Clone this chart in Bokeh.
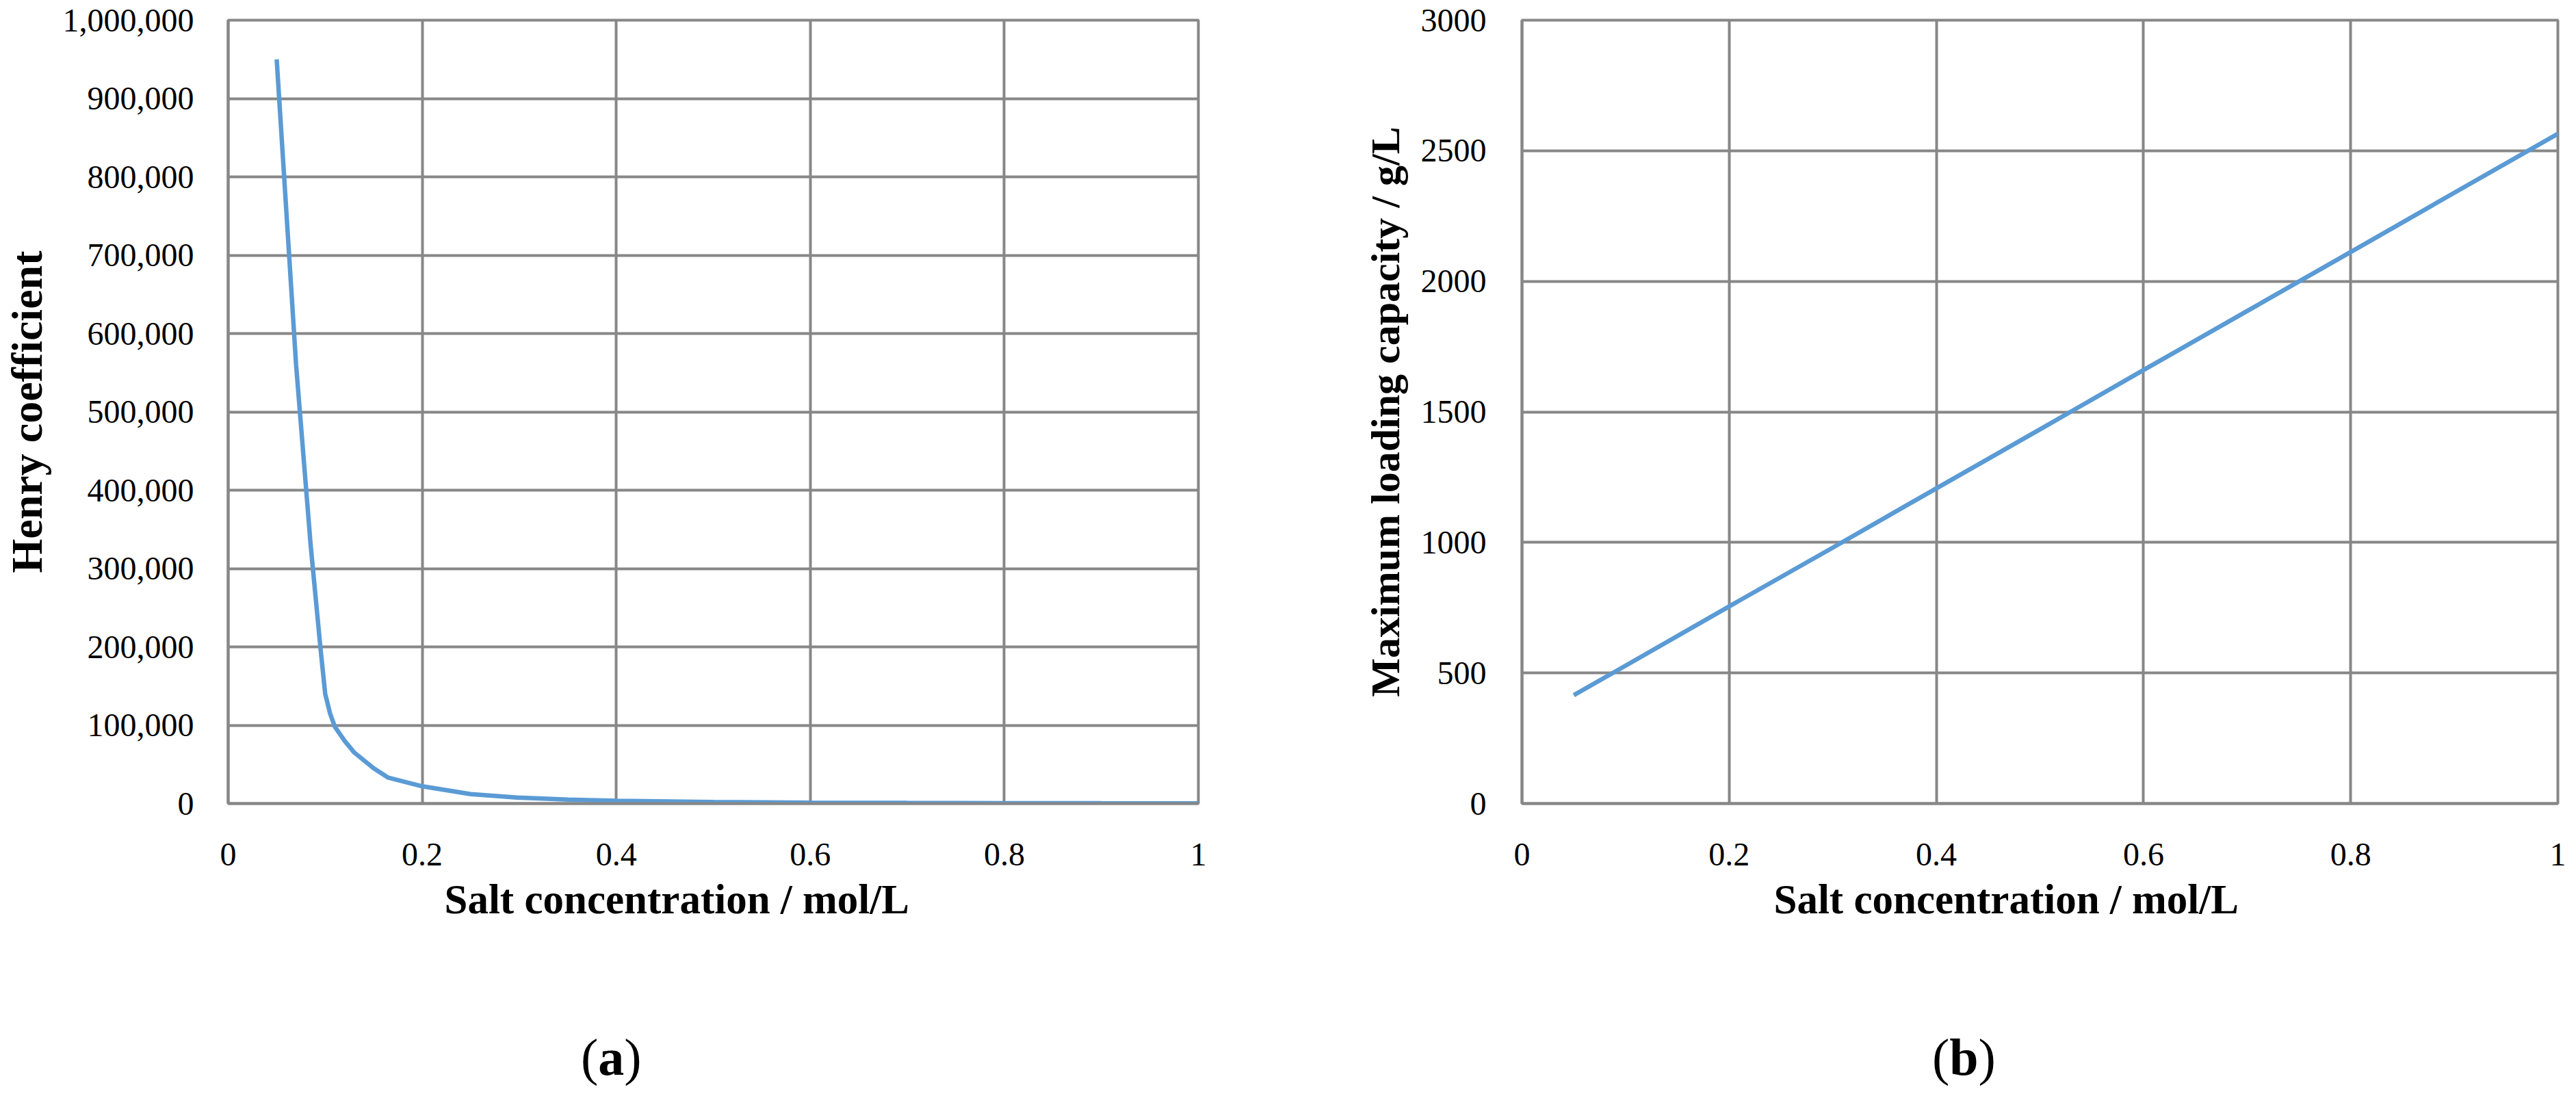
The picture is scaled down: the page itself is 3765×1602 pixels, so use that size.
# Henry coefficient and maximum loading capacity vs salt concentration, two panels

from bokeh.plotting import figure
from bokeh.layouts import row, column
from bokeh.models import FixedTicker, NumeralTickFormatter, Range1d, Title, Div
from bokeh.embed import file_html
from bokeh.resources import INLINE

salt_a = [0.05, 0.07, 0.085, 0.095, 0.10, 0.105, 0.11, 0.12, 0.13, 0.15, 0.165,
          0.2, 0.25, 0.3, 0.35, 0.4, 0.5, 0.6, 0.7, 0.8, 0.9, 1.0]
henry = [950000, 560000, 330000, 200000, 140000, 115000, 98000, 80000, 65000, 45000, 33000,
         22000, 12000, 7500, 5000, 3500, 2000, 1200, 800, 500, 350, 250]

salt_b = [0.05, 0.1, 0.2, 0.3, 0.4, 0.5, 0.6, 0.7, 0.8, 0.9, 1.0]
capacity = [415, 528, 755, 980, 1207, 1433, 1660, 1886, 2112, 2339, 2565]

x_ticks = [0, 0.2, 0.4, 0.6, 0.8, 1.0]
henry_ticks = [0, 100000, 200000, 300000, 400000, 500000, 600000, 700000, 800000, 900000, 1000000]
capacity_ticks = [0, 500, 1000, 1500, 2000, 2500, 3000]

GRID = "#878787"
BLUE = "#5B9BD5"
FONT = "Liberation Serif"


def style(p, yticks, yfmt, xlabel, xlabel_offset, ylabel, ylabel_size, ylabel_standoff, ytick_standoff):
    p.xaxis.ticker = FixedTicker(ticks=x_ticks)
    p.yaxis.ticker = FixedTicker(ticks=yticks)
    p.xaxis.formatter = NumeralTickFormatter(format="0.[0]")
    p.yaxis.formatter = NumeralTickFormatter(format=yfmt)
    for ax in (p.xaxis, p.yaxis):
        ax.axis_line_color = GRID
        ax.axis_line_width = 4
        ax.major_tick_line_color = None
        ax.minor_tick_line_color = None
        ax.major_label_text_font = FONT
        ax.major_label_text_font_size = "48px"
        ax.major_label_text_color = "black"
    p.yaxis.axis_label = ylabel
    p.yaxis.axis_label_text_font = FONT
    p.yaxis.axis_label_text_font_style = "bold"
    p.yaxis.axis_label_text_color = "black"
    p.yaxis.axis_label_text_font_size = ylabel_size
    p.yaxis.axis_label_standoff = ylabel_standoff
    p.xaxis.major_label_standoff = 52
    p.yaxis.major_label_standoff = ytick_standoff
    # x title sits a bit left of the plot centre, as in the original
    p.add_layout(Title(text=xlabel, align="left", offset=xlabel_offset, standoff=22,
                       text_font=FONT, text_font_size="61px", text_font_style="bold",
                       text_color="black"), "below")
    p.xgrid.grid_line_color = GRID
    p.ygrid.grid_line_color = GRID
    p.xgrid.grid_line_width = 4
    p.ygrid.grid_line_width = 4
    p.outline_line_color = GRID
    p.outline_line_width = 4
    p.background_fill_color = "white"
    p.border_fill_color = "white"


def panel_tag(letter, left):
    return Div(text='<div style="padding-left:%dpx;padding-top:66px;font-family:\'Liberation Serif\';'
                    'font-size:76px;color:black;white-space:nowrap">(<b>%s</b>)</div>' % (left, letter),
               width=1870, height=158)


# panel (a)
pa = figure(width=1872, height=1420, x_range=Range1d(0, 1), y_range=Range1d(0, 1000000),
            output_backend="svg", toolbar_location=None,
            min_border_left=328, min_border_right=121, min_border_top=29, min_border_bottom=246)
pa.line(salt_a, henry, line_color=BLUE, line_width=6.5)
style(pa, henry_ticks, "0,0", "Salt concentration / mol/L", 316, "Henry coefficient", "64px", 14, 44)

# panel (b)
pb = figure(width=1877, height=1420, x_range=Range1d(0, 1), y_range=Range1d(0, 3000),
            output_backend="svg", toolbar_location=None,
            min_border_left=344, min_border_right=19, min_border_top=29, min_border_bottom=246)
pb.line(salt_b, capacity, line_color=BLUE, line_width=6.5)
style(pb, capacity_ticks, "0", "Salt concentration /  mol/L", 368, "Maximum loading capacity / g/L", "60px", 16, 46)

layout = row(column(pa, panel_tag("a", 844)), column(pb, panel_tag("b", 939)))
open("out.html", "w").write(file_html(layout, INLINE))
